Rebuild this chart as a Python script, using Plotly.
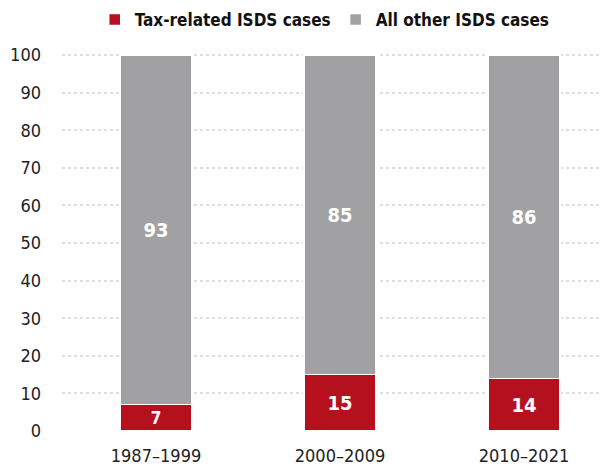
import plotly.graph_objects as go

categories = ["1987–1999", "2000–2009", "2010–2021"]
tax_related = [7, 15, 14]
all_other = [93, 85, 86]
series_names = ["Tax-related ISDS cases", "All other ISDS cases"]
y_ticks = [0, 10, 20, 30, 40, 50, 60, 70, 80, 90, 100]

FONT = "Liberation Sans Narrow, DejaVu Sans Condensed, Roboto, sans-serif"
RED = "#b5101e"
GRAY = "#a1a1a3"

fig = go.Figure()
fig.add_trace(go.Bar(
    x=categories, y=tax_related, name=series_names[0],
    marker=dict(color=RED, line=dict(color="white", width=1.5)),
    text=tax_related, textposition="inside", insidetextanchor="middle", textangle=0,
    textfont=dict(color="white", size=20, family=FONT, weight="bold"),
    width=0.39,
))
fig.add_trace(go.Bar(
    x=categories, y=all_other, name=series_names[1],
    marker=dict(color=GRAY, line=dict(color="white", width=1.5)),
    text=all_other, textposition="inside", insidetextanchor="middle", textangle=0,
    textfont=dict(color="white", size=20, family=FONT, weight="bold"),
    width=0.39,
))

fig.update_layout(
    barmode="stack",
    width=601, height=460,
    margin=dict(l=54, r=0, t=46, b=37, autoexpand=False),
    paper_bgcolor="white", plot_bgcolor="white",
    font=dict(family=FONT, color="#222222"),
    showlegend=True,
    legend=dict(orientation="h", x=0.527, xanchor="center", xref="container",
                y=0.974, yanchor="middle", yref="container",
                font=dict(size=17, family=FONT, weight="bold", color="#111111"),
                itemwidth=30, traceorder="normal"),
    uniformtext=dict(mode=False),
    xaxis=dict(range=[-0.511, 2.462], showgrid=False, showline=False, ticks="",
               ticklabelstandoff=12,
               tickfont=dict(size=18, family=FONT, color="#222222")),
    yaxis=dict(range=[0, 100.3], tickvals=y_ticks, showgrid=True, gridcolor="#dedede",
               griddash="dot", gridwidth=2, zeroline=False, showline=False, ticks="",
               ticklabelstandoff=20,
               tickfont=dict(size=18, family=FONT, color="#222222")),
)

fig.write_html("out.html")
